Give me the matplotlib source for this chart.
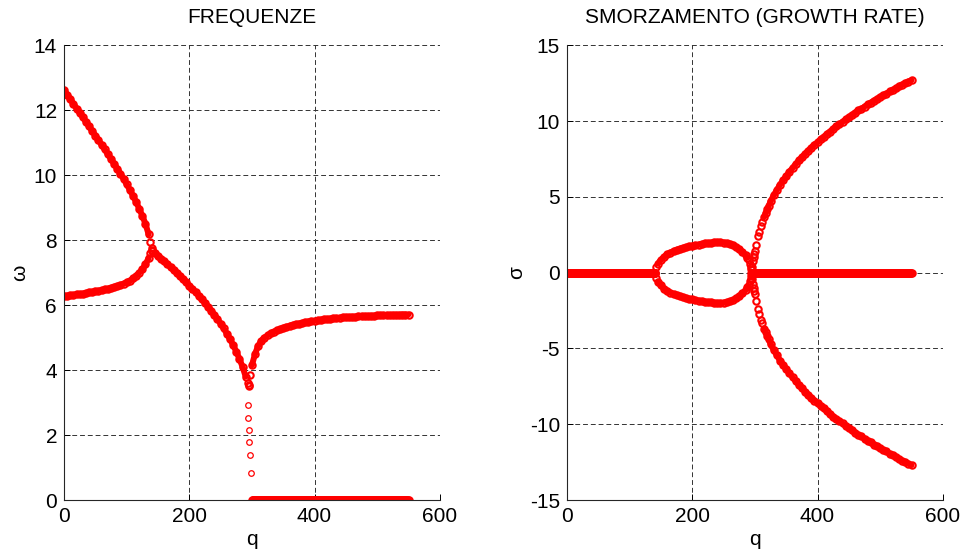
import numpy as np
import matplotlib
matplotlib.use("Agg")
import matplotlib.pyplot as plt

plt.rcParams['font.family'] = ['Liberation Sans', 'DejaVu Sans']
plt.rcParams['axes.unicode_minus'] = False

# --- FREQUENZE (omega vs q) ---
# upper branch, 0..140
q_up = [0, 5, 10, 15, 20, 25, 30, 35, 40, 45, 50, 55, 60, 65, 70, 75, 80, 85, 90,
        95, 100, 105, 110, 115, 120, 125, 130, 135, 138, 140]
w_up = [12.62, 12.48, 12.34, 12.2, 12.05, 11.92, 11.78, 11.64, 11.5, 11.36, 11.22,
        11.08, 10.93, 10.79, 10.64, 10.5, 10.35, 10.2, 10.05, 9.89, 9.72, 9.55, 9.37,
        9.18, 8.97, 8.75, 8.5, 8.18, 7.95, 7.75]
# lower branch, 0..140
q_low = q_up
w_low = [6.28, 6.29, 6.3, 6.31, 6.33, 6.34, 6.35, 6.37, 6.39, 6.4, 6.42, 6.44, 6.46,
         6.48, 6.5, 6.53, 6.56, 6.59, 6.62, 6.66, 6.7, 6.75, 6.82, 6.9, 7.0, 7.1,
         7.25, 7.45, 7.6, 7.7]
# merged branch, 140..295
q_mid = [140, 145, 150, 155, 160, 165, 170, 175, 180, 185, 190, 195, 200, 205, 210,
         215, 220, 225, 230, 235, 240, 245, 250, 255, 260, 265, 270, 275, 280, 285,
         290, 293, 295]
w_mid = [7.68, 7.6, 7.52, 7.43, 7.35, 7.26, 7.17, 7.08, 6.99, 6.9, 6.8, 6.7, 6.6,
         6.5, 6.4, 6.29, 6.18, 6.07, 5.95, 5.83, 5.7, 5.57, 5.43, 5.28, 5.12, 4.95,
         4.77, 4.57, 4.35, 4.1, 3.8, 3.6, 3.5]
# branch rising after 295
q_right = [295, 297, 300, 305, 310, 315, 320, 325, 330, 335, 340, 345, 350, 355, 360,
           365, 370, 375, 380, 385, 390, 395, 400, 405, 410, 415, 420, 425, 430, 435,
           440, 445, 450, 455, 460, 465, 470, 475, 480, 485, 490, 495, 500, 505, 510,
           515, 520, 525, 530, 535, 540, 545, 550]
w_right = [3.55, 3.85, 4.15, 4.5, 4.75, 4.9, 5.0, 5.07, 5.13, 5.18, 5.22, 5.26, 5.3,
           5.33, 5.36, 5.39, 5.41, 5.43, 5.45, 5.47, 5.49, 5.5, 5.52, 5.53, 5.55, 5.56,
           5.57, 5.58, 5.59, 5.6, 5.61, 5.62, 5.62, 5.63, 5.64, 5.64, 5.65, 5.65, 5.66,
           5.66, 5.67, 5.67, 5.68, 5.68, 5.69, 5.69, 5.69, 5.7, 5.7, 5.7, 5.71, 5.71,
           5.71]
# sparse points falling to zero
q_drop = [294, 294.5, 295, 296, 297, 298]
w_drop = [2.92, 2.51, 2.17, 1.79, 1.38, 0.82]
# zero-frequency branch
q_w0 = np.arange(300, 551, 1)
w_w0 = np.zeros(len(q_w0))

# --- SMORZAMENTO (sigma vs q) ---
q_s0a = np.arange(0, 141, 1)
s_s0a = np.zeros(len(q_s0a))
q_s0b = np.arange(294, 551, 1)
s_s0b = np.zeros(len(q_s0b))
# loop between 140 and 295 (upper half; lower half is its mirror)
q_loop = [140, 142, 145, 150, 155, 160, 165, 170, 175, 180, 185, 190, 195, 200, 205,
          210, 215, 220, 225, 230, 235, 240, 245, 250, 255, 260, 265, 270, 275, 280,
          285, 288, 290, 292, 293, 294, 295]
s_loop = [0.0, 0.35, 0.6, 0.85, 1.05, 1.2, 1.32, 1.42, 1.5, 1.57, 1.63, 1.68, 1.73,
          1.77, 1.81, 1.85, 1.89, 1.92, 1.95, 1.97, 1.99, 2.0, 2.0, 1.98, 1.95, 1.89,
          1.81, 1.7, 1.55, 1.37, 1.15, 0.98, 0.8, 0.58, 0.4, 0.22, 0.0]
# outer branches after 295 (upper; lower is its mirror)
q_big = [295, 296, 297, 298, 299, 300, 302, 305, 307, 310, 312, 315, 317, 320, 322,
         325, 330, 335, 340, 345, 350, 355, 360, 365, 370, 375, 380, 385, 390, 395,
         400, 405, 410, 415, 420, 425, 430, 435, 440, 445, 450, 455, 460, 465, 470,
         475, 480, 485, 490, 495, 500, 505, 510, 515, 520, 525, 530, 535, 540, 545,
         550]
s_big = [0.0, 0.4, 0.75, 1.0, 1.2, 1.4, 1.85, 2.4, 2.7, 3.1, 3.35, 3.7, 3.9, 4.2,
         4.4, 4.7, 5.1, 5.45, 5.8, 6.1, 6.35, 6.65, 6.9, 7.15, 7.4, 7.6, 7.85, 8.05,
         8.25, 8.45, 8.6, 8.8, 8.95, 9.15, 9.3, 9.5, 9.65, 9.8, 9.95, 10.1, 10.25,
         10.4, 10.55, 10.7, 10.8, 10.95, 11.1, 11.2, 11.35, 11.45, 11.6, 11.7, 11.8,
         11.95, 12.05, 12.15, 12.3, 12.4, 12.5, 12.6, 12.7]

fig = plt.figure(figsize=(9.66, 5.56), dpi=100)
ax1 = fig.add_axes([0.0663, 0.1007, 0.389, 0.818])
ax2 = fig.add_axes([0.587, 0.1007, 0.389, 0.818])

mk = dict(ls='none', marker='o', ms=4.6, mfc='none', mec='r', mew=1.5)
mk_thin = dict(ls='none', marker='o', ms=4.0, mfc='none', mec='r', mew=0.9)
band = dict(color='r', lw=4.3, solid_capstyle='round', solid_joinstyle='round')


def branch(ax, q, v, start=0, stop=None):
    # dense sampling in the original shows as a solid band
    ax.plot(q[start:stop], v[start:stop], **band)
    ax.plot(q, v, **mk)


branch(ax1, q_up, w_up, stop=-2)
branch(ax1, q_low, w_low, stop=-2)
branch(ax1, q_mid, w_mid, start=1, stop=-2)
branch(ax1, q_right, w_right, start=2)
ax1.plot(q_drop, w_drop, **mk_thin)
branch(ax1, q_w0, w_w0)

s_loop_neg = [-v for v in s_loop]
s_big_neg = [-v for v in s_big]
branch(ax2, q_s0a, s_s0a)
branch(ax2, q_s0b, s_s0b)
branch(ax2, q_loop, s_loop, start=2, stop=-5)
branch(ax2, q_loop, s_loop_neg, start=2, stop=-5)
branch(ax2, q_big, s_big, start=11)
branch(ax2, q_big, s_big_neg, start=11)

fs = 15
ax1.set_xlim(0, 600)
ax1.set_ylim(0, 14)
ax1.set_xticks([0, 200, 400, 600])
ax1.set_yticks(range(0, 15, 2))
ax1.set_title('FREQUENZE', fontsize=fs, pad=16)
ax1.set_xlabel('q', fontsize=fs, labelpad=3)
ax1.set_ylabel('ω', fontsize=fs, labelpad=3)

ax2.set_xlim(0, 600)
ax2.set_ylim(-15, 15)
ax2.set_xticks([0, 200, 400, 600])
ax2.set_yticks(range(-15, 16, 5))
ax2.set_title('SMORZAMENTO (GROWTH RATE)', fontsize=fs, pad=16)
ax2.set_xlabel('q', fontsize=fs, labelpad=3)
ax2.set_ylabel('σ', fontsize=fs, labelpad=3)

for ax in (ax1, ax2):
    ax.grid(True, color='0.2', ls=(0, (5, 3)), lw=0.7)
    ax.set_axisbelow(True)
    ax.spines['top'].set_visible(False)
    ax.spines['right'].set_visible(False)
    ax.spines['left'].set_color('0.15')
    ax.spines['bottom'].set_color('0.15')
    ax.tick_params(direction='in', length=4, labelsize=fs, width=0.7, pad=5)

fig.savefig('out.png', dpi=100)
